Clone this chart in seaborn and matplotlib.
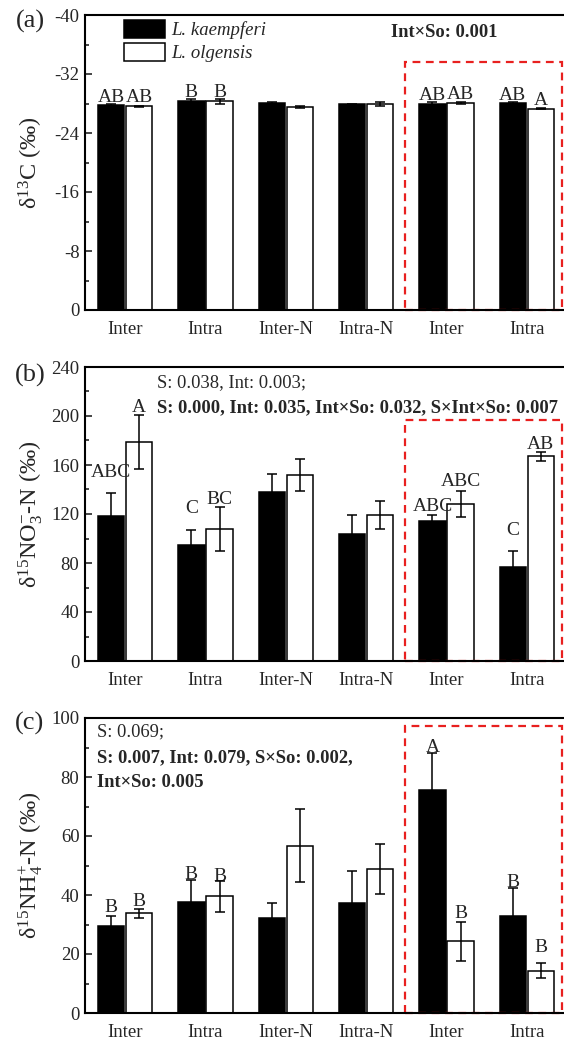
import matplotlib
matplotlib.use("Agg")
import matplotlib.pyplot as plt
from matplotlib.patches import Rectangle, Patch
from matplotlib.ticker import MultipleLocator
import numpy as np
import pandas as pd
import seaborn as sns

# ---------------- data ----------------
groups = ["Inter", "Intra", "Inter-N", "Intra-N", "Inter", "Intra"]
species = ["L. kaempferi", "L. olgensis"]

d13c_lk = [-27.8, -28.4, -28.1, -27.9, -28.0, -28.1]
d13c_lk_err = [0.1, 0.2, 0.1, 0.1, 0.25, 0.15]
d13c_lo = [-27.6, -28.3, -27.5, -27.95, -28.1, -27.3]
d13c_lo_err = [0.1, 0.35, 0.1, 0.3, 0.15, 0.1]

no3_lk = [118, 95, 138, 104, 114, 77]
no3_lk_err = [19, 12, 14.5, 15, 5, 13]
no3_lo = [179, 108, 151.6, 119, 128, 167]
no3_lo_err = [22, 18, 13, 11.5, 10.5, 4]

nh4_lk = [29.6, 37.6, 32.1, 37.2, 75.5, 33.0]
nh4_lk_err = [3.2, 7.5, 5.2, 11, 12.6, 9.5]
nh4_lo = [33.8, 39.5, 56.7, 48.8, 24.3, 14.4]
nh4_lo_err = [1.6, 5.3, 12.4, 8.4, 6.6, 2.4]

a_lk_letters = ["AB", "B", "", "", "AB", "AB"]
a_lo_letters = ["AB", "B", "", "", "AB", "A"]
b_lk_letters = ["ABC", "C", "", "", "ABC", "C"]
b_lo_letters = ["A", "BC", "", "", "ABC", "AB"]
c_lk_letters = ["B", "B", "", "", "A", "B"]
c_lo_letters = ["B", "B", "", "", "B", "B"]

# ---------------- style ----------------
sns.set_theme(style="white")
SERIF = ["Liberation Serif", "DejaVu Serif"]
plt.rcParams["font.family"] = SERIF
plt.rcParams["axes.unicode_minus"] = False
plt.rcParams["mathtext.fontset"] = "custom"
plt.rcParams["mathtext.rm"] = "Liberation Serif"
plt.rcParams["mathtext.it"] = "Liberation Serif:italic"
plt.rcParams["mathtext.bf"] = "Liberation Serif:bold"

FS_TICK = 13.5
FS_LET = 14
FS_LAB = 17.5
FS_STAT = 13.3

fig = plt.figure(figsize=(5.64, 10.46), dpi=100)
L = 85 / 564
W = (567 - 85) / 564
axes_px = [(15, 310), (367, 661), (718, 1013)]
axs = []
for top, bot in axes_px:
    axs.append(fig.add_axes([L, 1 - bot / 1046, W, (bot - top) / 1046]))

panels = [
    dict(lk=d13c_lk, lke=d13c_lk_err, lo=d13c_lo, loe=d13c_lo_err,
         llk=a_lk_letters, llo=a_lo_letters,
         off_lk=[1.5, 1.5, 0, 0, 1.5, 1.5], off_lo=[2.5, 1.5, 0, 0, 2, 2],
         ylim=(0, -40), major=8, minor=4, box_top=-33.6,
         ylabel="δ$^{13}$C (‰)", tag="(a)", tag_y=21),
    dict(lk=no3_lk, lke=no3_lk_err, lo=no3_lo, loe=no3_lo_err,
         llk=b_lk_letters, llo=b_lo_letters,
         off_lk=[12, 12, 0, 0, 3, 11], off_lo=[2, 2, 0, 0, 4, 1.5],
         ylim=(0, 240), major=40, minor=20, box_top=196.7,
         ylabel="δ$^{15}$NO$_3^{-}$-N (‰)", tag="(b)", tag_y=375),
    dict(lk=nh4_lk, lke=nh4_lk_err, lo=nh4_lo, loe=nh4_lo_err,
         llk=c_lk_letters, llo=c_lo_letters,
         off_lk=[3, 0.5, 0, 0, 0.5, 0.5], off_lo=[1.5, 0, 0, 0, 3, 8],
         ylim=(0, 100), major=20, minor=10, box_top=97.4,
         ylabel="δ$^{15}$NH$_4^{+}$-N (‰)", tag="(c)", tag_y=723),
]

for ax, p in zip(axs, panels):
    df = pd.DataFrame({
        "pos": list(range(len(groups))) * 2,
        "species": [species[0]] * len(groups) + [species[1]] * len(groups),
        "value": p["lk"] + p["lo"],
    })
    sns.barplot(data=df, x="pos", y="value", hue="species", hue_order=species,
                palette=["black", "white"], edgecolor="black", linewidth=1.1,
                width=0.7, gap=0.06, errorbar=None, legend=False, ax=ax)
    for ci, (vals, errs, lets, offs) in enumerate([
            (p["lk"], p["lke"], p["llk"], p["off_lk"]),
            (p["lo"], p["loe"], p["llo"], p["off_lo"])]):
        xs = [b.get_x() + b.get_width() / 2 for b in ax.containers[ci]]
        ax.errorbar(xs, vals, yerr=errs, fmt="none", ecolor="black",
                    elinewidth=1.1, capsize=3.3, capthick=1.1, zorder=5)
        sign = -1 if p["ylim"][1] < 0 else 1
        for x, v, e, t, o in zip(xs, vals, errs, lets, offs):
            if t:
                ax.annotate(t, (x, v + sign * e), xytext=(0, o),
                            textcoords="offset points", ha="center",
                            va="baseline", fontsize=FS_LET)
    ax.set_xlim(-0.5, 5.5)
    ax.set_ylim(*p["ylim"])
    ax.yaxis.set_major_locator(MultipleLocator(p["major"]))
    ax.yaxis.set_minor_locator(MultipleLocator(p["minor"]))
    ax.set_xticks(range(len(groups)))
    ax.set_xticklabels(groups, fontsize=FS_TICK)
    ax.tick_params(axis="x", length=0, pad=8)
    ax.tick_params(axis="y", which="major", direction="in", length=5,
                   width=1.2, labelsize=FS_TICK, left=True, pad=4)
    ax.tick_params(axis="y", which="minor", direction="in", length=3,
                   width=1.2, left=True)
    ax.set_xlabel("")
    ax.set_ylabel(p["ylabel"], fontsize=FS_LAB)
    ax.yaxis.set_label_coords(-0.082, 0.5)
    for s in ax.spines.values():
        s.set_linewidth(1.5)
        s.set_color("black")
    ax.add_patch(Rectangle((3.48, 0), 5.44 - 3.48, p["box_top"], fill=False,
                           edgecolor="#e8201f", linestyle=(0, (3.5, 2.5)),
                           linewidth=1.6, clip_on=False, zorder=1))
    fig.text(30 / 564, 1 - p["tag_y"] / 1046, p["tag"], fontsize=19,
             ha="center", va="center")

# legend in panel (a)
handles = [Patch(facecolor="black", edgecolor="black", linewidth=1.1),
           Patch(facecolor="white", edgecolor="black", linewidth=1.1)]
axs[0].legend(handles, species, loc="upper left",
              bbox_to_anchor=((124 - 85) / 482, (310 - 20) / 295),
              frameon=False, borderpad=0, borderaxespad=0,
              handlelength=2.2, handleheight=1.1, labelspacing=0.2,
              handletextpad=0.3,
              prop={"family": SERIF, "style": "italic", "size": 13.5})

# statistics text
axs[0].text(3.31, -37.6, "Int×So: 0.001", fontsize=FS_STAT, fontweight="bold",
            ha="left", va="center")
axs[1].text(0.4, 227, "S: 0.038, Int: 0.003;", fontsize=FS_STAT,
            ha="left", va="center")
axs[1].text(0.4, 206.5, "S: 0.000, Int: 0.035, Int×So: 0.032, S×Int×So: 0.007",
            fontsize=FS_STAT, fontweight="bold", ha="left", va="center")
axs[2].text(-0.35, 95.3, "S: 0.069;", fontsize=FS_STAT, ha="left", va="center")
axs[2].text(-0.35, 86.4, "S: 0.007, Int: 0.079, S×So: 0.002,", fontsize=FS_STAT,
            fontweight="bold", ha="left", va="center")
axs[2].text(-0.35, 78.3, "Int×So: 0.005", fontsize=FS_STAT, fontweight="bold",
            ha="left", va="center")

fig.savefig("out.png", dpi=100)
